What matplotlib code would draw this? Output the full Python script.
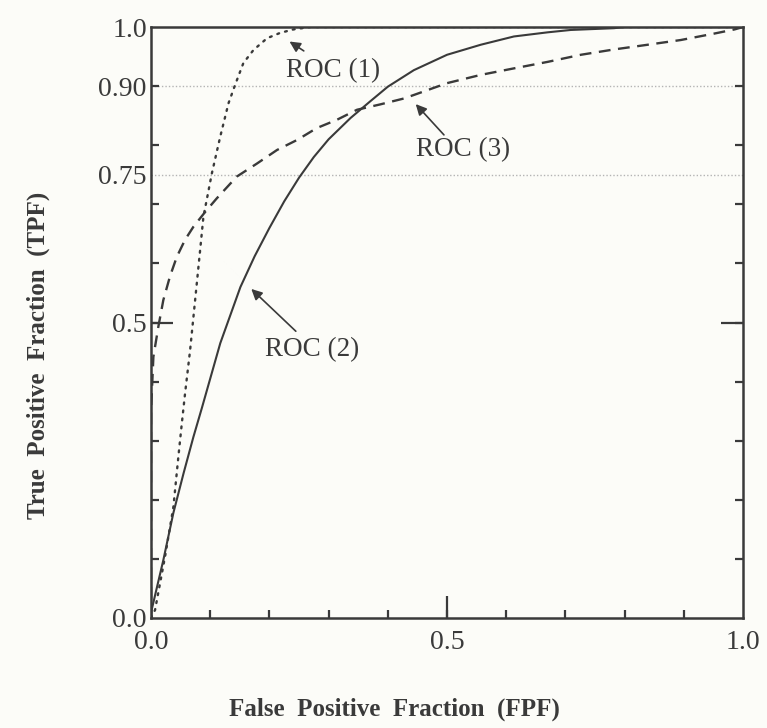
import matplotlib.pyplot as plt

plt.rcParams['font.family'] = ['Liberation Serif', 'DejaVu Serif']

# ROC curves (FPF, TPF)
roc1_fpf = [0, 0.0068, 0.0237, 0.0378, 0.0462, 0.052, 0.0575, 0.066, 0.0745, 0.083, 0.0885, 0.094,
            0.1027, 0.1168, 0.1309, 0.142, 0.156, 0.173, 0.196, 0.218, 0.241, 0.269, 1.0]
roc1_tpf = [0, 0.0135, 0.104, 0.188, 0.273, 0.329, 0.38, 0.453, 0.538, 0.623, 0.679, 0.707,
            0.752, 0.814, 0.871, 0.902, 0.939, 0.961, 0.981, 0.990, 0.996, 1.0, 1.0]

roc2_fpf = [0, 0.001, 0.0208, 0.0378, 0.055, 0.0715, 0.0858, 0.117, 0.151, 0.175, 0.2, 0.225,
            0.25, 0.275, 0.3, 0.337, 0.37, 0.4, 0.444, 0.5, 0.557, 0.613, 0.67, 0.709,
            0.782, 0.8, 1.0]
roc2_tpf = [0, 0.0135, 0.098, 0.178, 0.245, 0.306, 0.355, 0.465, 0.56, 0.612, 0.66, 0.705,
            0.745, 0.78, 0.81, 0.846, 0.874, 0.899, 0.927, 0.953, 0.97, 0.984, 0.991, 0.995,
            0.998, 1.0, 1.0]

roc3_fpf = [0, 0.0, 0.004, 0.0124, 0.0208, 0.032, 0.0435, 0.0575, 0.0716, 0.0914, 0.111, 0.145, 0.179,
            0.213, 0.247, 0.28, 0.314, 0.348, 0.387, 0.427, 0.444, 0.5, 0.557, 0.613, 0.67, 0.726, 0.782,
            0.839, 0.895, 0.952, 0.986, 1.0]
roc3_tpf = [0, 0.35, 0.442, 0.493, 0.538, 0.578, 0.611, 0.64, 0.662, 0.687, 0.71, 0.747, 0.769,
            0.792, 0.809, 0.829, 0.843, 0.86, 0.869, 0.879, 0.885, 0.905, 0.919, 0.93, 0.941, 0.953, 0.962,
            0.97, 0.978, 0.989, 0.996, 1.0]

y_ticks = [0.0, 0.5, 0.75, 0.90, 1.0]
y_tick_labels = ['0.0', '0.5', '0.75', '0.90', '1.0']
x_ticks = [0.0, 0.5, 1.0]
x_tick_labels = ['0.0', '0.5', '1.0']
minor = [0.1, 0.2, 0.3, 0.4, 0.5, 0.6, 0.7, 0.8, 0.9]

ink = '#3a3a3a'
bg = '#fcfcf8'

fig = plt.figure(figsize=(7.67, 7.28), dpi=100, facecolor=bg)
ax = fig.add_axes([0.1969, 0.1511, 0.7718, 0.8118], facecolor=bg)

# light dotted reference lines
for yv in [0.75, 0.90]:
    ax.axhline(yv, color='#b4b4b4', lw=1.0, ls=(0, (1, 1.5)), zorder=1)

ax.plot(roc1_fpf, roc1_tpf, color=ink, lw=1.7, ls=(0, (0.8, 2.6)), dash_capstyle='round', zorder=3)
ax.plot(roc2_fpf, roc2_tpf, color=ink, lw=1.5, ls='-', zorder=3)
ax.plot(roc3_fpf, roc3_tpf, color=ink, lw=1.7, ls=(0, (5, 3.2)), zorder=3)

arrow = dict(arrowstyle='-|>', color=ink, lw=1.2, mutation_scale=16)
ax.annotate('', xy=(0.23, 0.978), xytext=(0.262, 0.957), arrowprops=arrow)
ax.text(0.307, 0.927, 'ROC (1)', ha='center', va='center', fontsize=19.5, color=ink)
ax.annotate('', xy=(0.444, 0.873), xytext=(0.498, 0.814), arrowprops=arrow)
ax.text(0.527, 0.792, 'ROC (3)', ha='center', va='center', fontsize=19.5, color=ink)
ax.annotate('', xy=(0.166, 0.560), xytext=(0.248, 0.482), arrowprops=arrow)
ax.text(0.272, 0.454, 'ROC (2)', ha='center', va='center', fontsize=19.5, color=ink)

ax.set_xlim(0, 1)
ax.set_ylim(0, 1)

ax.set_yticks(y_ticks)
ax.set_yticklabels(y_tick_labels)
ax.set_xticks(x_ticks)
ax.set_xticklabels(x_tick_labels)
ax.set_xticks(minor, minor=True)
ax.set_yticks(minor, minor=True)
ax.xaxis.remove_overlapping_locs = False
ax.yaxis.remove_overlapping_locs = False

ax.tick_params(which='both', direction='in', color=ink, width=1.6)
ax.tick_params(which='major', length=16, labelsize=20, labelcolor=ink)
ax.tick_params(which='minor', length=6)
ax.tick_params(axis='y', which='both', right=True, pad=3)
ax.tick_params(axis='x', which='major', pad=9)

# only 0.5 keeps a long major tick
for i, t in enumerate(ax.yaxis.get_major_ticks()):
    if i != 1:
        t.tick1line.set_visible(False)
        t.tick2line.set_visible(False)
for i, t in enumerate(ax.xaxis.get_major_ticks()):
    if i != 1:
        t.tick1line.set_visible(False)

for s in ax.spines.values():
    s.set_color(ink)
    s.set_linewidth(1.8)

ax.set_xlabel('False  Positive  Fraction  (FPF)', fontsize=18, fontweight='bold', color=ink)
ax.set_ylabel('True  Positive  Fraction  (TPF)', fontsize=18, fontweight='bold', color=ink)
ax.xaxis.set_label_coords(0.412, -0.134)
ax.yaxis.set_label_coords(-0.171, 0.445)

fig.savefig('out.png', dpi=100, facecolor=bg)
